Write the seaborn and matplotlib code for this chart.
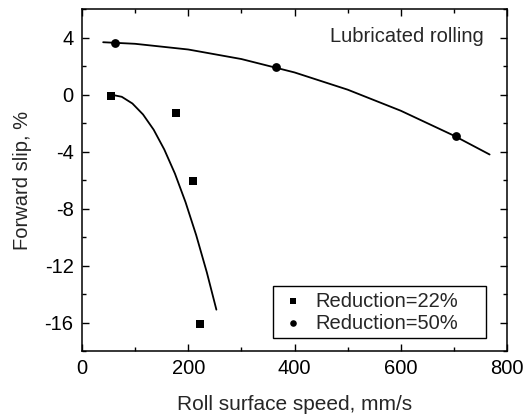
import matplotlib
matplotlib.use("Agg")
import matplotlib.pyplot as plt
import matplotlib.patches as mpatches
import seaborn as sns
import pandas as pd
from matplotlib.ticker import MultipleLocator

# data
r22_speed = [55, 177, 209, 222]
r22_slip = [-0.12, -1.26, -6.06, -16.07]
r50_speed = [62, 365, 703]
r50_slip = [3.65, 1.92, -2.93]

# fitted curves
fit22_speed = [55, 75, 95, 115, 135, 155, 175, 195, 215, 235, 253]
fit22_slip = [0.0, -0.15, -0.62, -1.39, -2.46, -3.85, -5.54, -7.55, -9.86, -12.47, -15.09]
fit50_speed = [40, 100, 200, 300, 400, 500, 600, 700, 767]
fit50_slip = [3.68, 3.57, 3.17, 2.50, 1.56, 0.35, -1.13, -2.88, -4.20]

label22 = "Reduction=22%"
label50 = "Reduction=50%"

sns.set_style("ticks")
plt.rcParams["font.family"] = ["Liberation Sans", "DejaVu Sans"]
plt.rcParams["axes.unicode_minus"] = False

fig = plt.figure(figsize=(5.25, 4.17), dpi=100)
ax = fig.add_axes([0.156, 0.158, 0.81, 0.82])

df22 = pd.DataFrame({"x": r22_speed, "y": r22_slip})
df50 = pd.DataFrame({"x": r50_speed, "y": r50_slip})
f22 = pd.DataFrame({"x": fit22_speed, "y": fit22_slip})
f50 = pd.DataFrame({"x": fit50_speed, "y": fit50_slip})

sns.lineplot(data=f22, x="x", y="y", ax=ax, color="black", lw=1.3, sort=False,
             estimator=None, legend=False)
sns.lineplot(data=f50, x="x", y="y", ax=ax, color="black", lw=1.3, sort=False,
             estimator=None, legend=False)
sns.scatterplot(data=df22, x="x", y="y", ax=ax, marker="s", color="black", s=26,
                edgecolor="black", linewidth=0, label=label22, zorder=3)
sns.scatterplot(data=df50, x="x", y="y", ax=ax, marker="o", color="black", s=40,
                edgecolor="black", linewidth=0, label=label50, zorder=3)

ax.set_xlim(0, 800)
ax.set_ylim(-18, 6)
ax.xaxis.set_major_locator(MultipleLocator(200))
ax.xaxis.set_minor_locator(MultipleLocator(100))
ax.yaxis.set_major_locator(MultipleLocator(4))
ax.yaxis.set_minor_locator(MultipleLocator(2))
ax.tick_params(which="both", direction="in", top=True, right=True,
               labelsize=14.5, colors="black", width=1)
ax.tick_params(which="major", length=5, pad=6)
ax.tick_params(which="minor", length=3)
for s in ax.spines.values():
    s.set_visible(True)
    s.set_linewidth(1.1)
    s.set_color("black")

ax.set_xlabel("Roll surface speed, mm/s", fontsize=15, labelpad=12)
ax.set_ylabel("Forward slip, %", fontsize=14.5, labelpad=9)

ax.text(0.944, 0.921, "Lubricated rolling", transform=ax.transAxes,
        ha="right", va="center", fontsize=14.5)

leg = ax.legend(loc="center left", bbox_to_anchor=(0.468, 0.114), fontsize=14.5,
                frameon=False, handletextpad=0.5, borderpad=0, labelspacing=0.15,
                markerscale=0.75, handlelength=1.2, borderaxespad=0)

# legend frame (wider right padding, as in the reference)
frame = mpatches.Rectangle((0.449, 0.038), 0.502, 0.152, transform=ax.transAxes,
                           fill=False, edgecolor="black", linewidth=1.0, zorder=4)
ax.add_patch(frame)

fig.savefig("out.png", dpi=100)
